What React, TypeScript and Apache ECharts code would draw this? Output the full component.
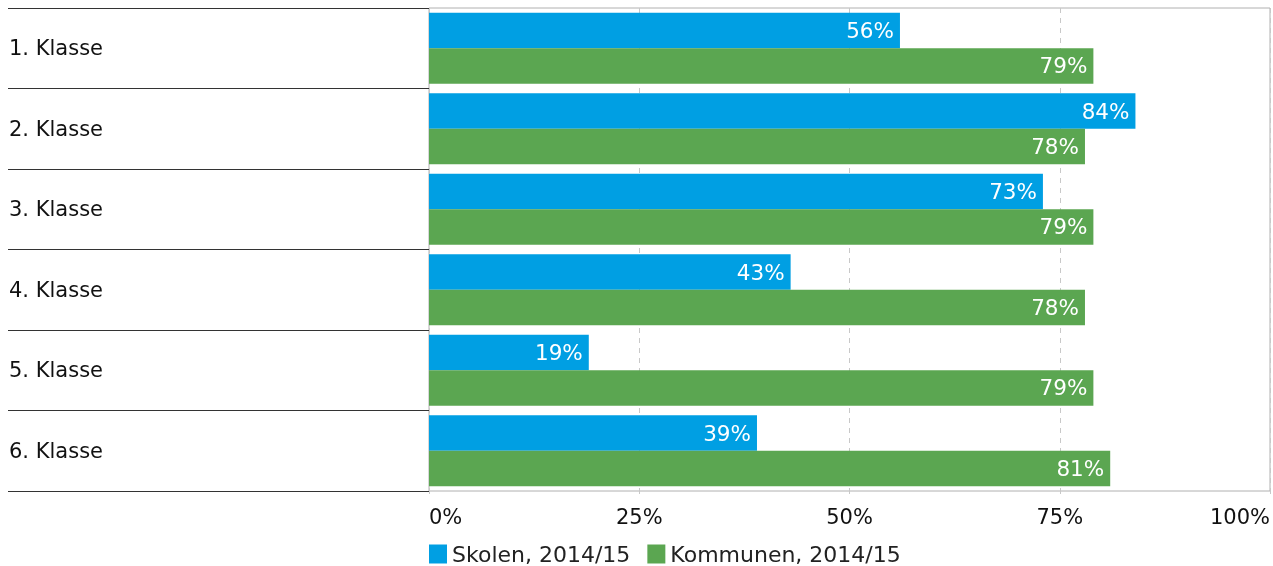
import React, { useEffect, useRef } from "react";
import * as echarts from "echarts";

const categories = ["1. Klasse", "2. Klasse", "3. Klasse", "4. Klasse", "5. Klasse", "6. Klasse"];
const seriesNames = ["Skolen, 2014/15", "Kommunen, 2014/15"];
const skolen = [56, 84, 73, 43, 19, 39];
const kommunen = [79, 78, 79, 78, 79, 81];
const xTicks = [0, 25, 50, 75, 100];

const FONT = "DejaVu Sans, Verdana, sans-serif";

export default function App() {
  const ref = useRef<HTMLDivElement>(null);
  useEffect(() => {
    if (!ref.current) return;
    const chart = echarts.init(ref.current, undefined, { renderer: "svg" });
    const labelCfg = {
      show: true,
      position: "insideRight",
      distance: 6,
      color: "#ffffff",
      fontSize: 21.5,
      fontFamily: FONT,
      formatter: "{c}%",
    };
    chart.setOption({
      animation: false,
      textStyle: { fontFamily: FONT },
      grid: {
        left: 429,
        right: 2,
        top: 8,
        bottom: 75,
        show: true,
        borderColor: "#b0b0b0",
        borderWidth: 1,
      },
      legend: {
        left: 429,
        top: 543,
        padding: 0,
        itemWidth: 18,
        itemHeight: 19,
        itemGap: 17,
        icon: "rect",
        textStyle: { fontSize: 22, color: "#222", fontFamily: FONT },
        data: seriesNames,
      },
      xAxis: {
        type: "value",
        min: xTicks[0],
        max: xTicks[xTicks.length - 1],
        interval: 25,
        axisLine: { show: false },
        axisTick: { show: true, length: 3, lineStyle: { color: "#c8c8c8" } },
        axisLabel: {
          formatter: "{value}%",
          fontSize: 21,
          color: "#111",
          margin: 15,
          alignMinLabel: "left",
          alignMaxLabel: "right",
        },
        splitLine: { show: true, lineStyle: { color: "#c8c8c8", type: [5, 5], width: 1 } },
      },
      yAxis: {
        type: "category",
        inverse: true,
        data: categories,
        axisLine: { show: false },
        axisTick: { show: true, length: 421, lineStyle: { color: "#333", width: 1 } },
        axisLabel: {
          align: "left",
          margin: 420,
          fontSize: 21,
          color: "#111",
        },
      },
      series: [
        {
          name: seriesNames[0],
          type: "bar",
          data: skolen,
          barGap: "0%",
          barCategoryGap: "12%",
          itemStyle: { color: "#009fe3" },
          label: labelCfg,
        },
        {
          name: seriesNames[1],
          type: "bar",
          data: kommunen,
          barGap: "0%",
          barCategoryGap: "12%",
          itemStyle: { color: "#5ba651" },
          label: labelCfg,
        },
      ],
    });
    return () => chart.dispose();
  }, []);
  return (
    <div
      ref={ref}
      style={{ position: "fixed", left: 0, top: 0, width: 1273, height: 566 }}
    />
  );
}
